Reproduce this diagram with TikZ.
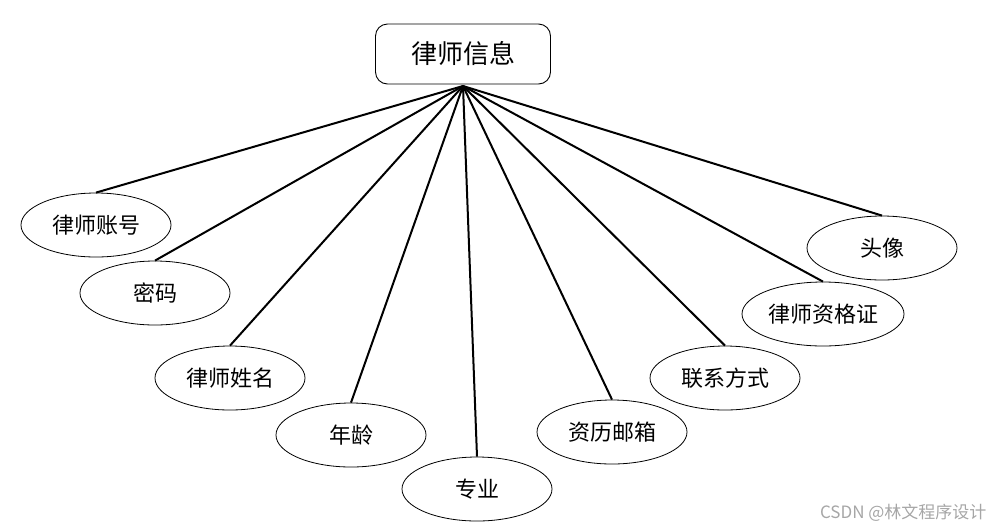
\documentclass[tikz,border=0pt]{standalone}
\usepackage{fontspec}
\newfontfamily\cjk{Noto Sans CJK SC}
\usetikzlibrary{shapes.geometric}
\tikzset{
  attr/.style={draw, ellipse, line width=0.8pt, minimum width=150pt,
    minimum height=64pt, inner sep=0pt, font=\cjk\fontsize{22}{26}\selectfont},
  entity/.style={draw, rounded corners=12pt, line width=0.9pt,
    minimum width=175pt, minimum height=60pt, inner sep=0pt,
    font=\cjk\fontsize{26}{30}\selectfont},
  link/.style={line width=2pt}
}
\begin{document}
\begin{tikzpicture}[x=1pt,y=-1pt]
  \useasboundingbox (0,0) rectangle (995,531);
  % entity and its attributes
  \node[entity] (info) at (463,54) {律师信息};
  \coordinate (hub) at (463,86);
  \node[attr] (account) at (96,225) {律师账号};
  \node[attr] (pwd) at (155,293) {密码};
  \node[attr] (name) at (230,378) {律师姓名};
  \node[attr] (age) at (351,435) {年龄};
  \node[attr] (major) at (477,489) {专业};
  \node[attr] (mail) at (612,432) {资历邮箱};
  \node[attr] (contact) at (725,378) {联系方式};
  \node[attr, minimum width=162pt] (cert) at (823,314) {律师资格证};
  \node[attr] (avatar) at (882,248) {头像};
  % links
  \foreach \a in {account,pwd,name,age,major,mail,contact,cert,avatar}
    \draw[link]
      (hub)
      --
      (\a.north);
  % watermark
  \node[font=\cjk\fontsize{17}{20}\selectfont, text=black!35, anchor=east]
    (mark) at (990,513) {CSDN @林文程序设计};
\end{tikzpicture}
\end{document}
